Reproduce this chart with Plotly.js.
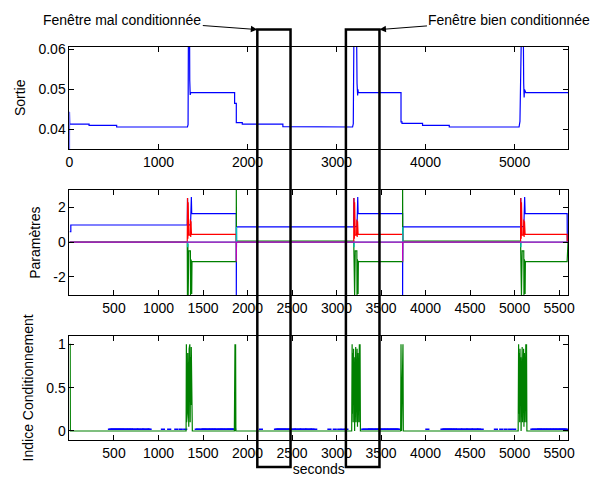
<!DOCTYPE html>
<html>
<head>
<meta charset="utf-8">
<script src="https://cdn.plot.ly/plotly-3.0.1.min.js"></script>
<style>html,body{margin:0;padding:0;background:#fff;}#chart{width:600px;height:477px;}</style>
</head>
<body>
<div id="chart"></div>
<script>
// ---------- Data ----------
// Top panel: "Sortie"
var sortieT = [0, 0, 3, 220, 220, 530, 530, 1325, 1332, 1336, 1349, 1351, 1353, 1356, 1358, 1362, 1855, 1855, 1874, 1874, 1941, 1941, 2397, 2397, 3180, 3188, 3195, 3225, 3230, 3234, 3237, 3240, 3244, 3724, 3724, 3735, 3735, 3966, 3966, 4266, 4266, 5050, 5060, 5076, 5098, 5102, 5105, 5107, 5111, 5125, 5600];
var sortieV = [0.033, 0.0444, 0.0413, 0.0413, 0.0410, 0.0410, 0.0406, 0.0406, 0.0412, 0.0640, 0.0640, 0.0523, 0.0502, 0.0486, 0.0502, 0.0492, 0.0492, 0.0465, 0.0465, 0.0417, 0.0417, 0.0413, 0.0413, 0.0407, 0.0406, 0.0414, 0.0640, 0.0640, 0.0515, 0.0505, 0.0485, 0.0500, 0.0492, 0.0492, 0.0419, 0.0419, 0.0415, 0.0415, 0.0410, 0.0410, 0.0406, 0.0406, 0.0420, 0.0640, 0.0640, 0.0515, 0.0505, 0.0480, 0.0500, 0.0492, 0.0492];

// Middle panel: "Paramètres" (five estimated parameters)
var p1T = [0, 15, 15, 1323, 1326, 1331, 1360, 1362, 1366, 1369, 1373, 1874, 1874, 1876, 3193, 3195, 3200, 3230, 3232, 3236, 3238, 3242, 3742, 3742, 3744, 5067, 5069, 5074, 5104, 5106, 5110, 5113, 5118, 5590, 5592, 5600];
var p1V = [0.6, 0.6, 0.99, 0.99, 2.55, 1.0, 1.0, 2.6, 1.2, 2.6, 1.65, 1.65, -3.1, 0.88, 0.88, 2.55, 0.9, 0.9, 2.6, 1.2, 2.6, 1.65, 1.65, -3.1, 0.88, 0.88, 2.55, 0.9, 0.9, 2.6, 1.2, 2.6, 1.65, 1.65, 0, 0];

var p2T = [0, 1323, 1325, 1330, 1333, 1340, 1358, 1360, 1363, 1366, 1369, 1373, 1376, 1874, 1874, 1876, 3193, 3195, 3200, 3203, 3210, 3228, 3230, 3233, 3236, 3239, 3242, 3245, 3742, 3742, 3744, 5067, 5069, 5074, 5077, 5085, 5103, 5105, 5108, 5111, 5114, 5118, 5121, 5590, 5592, 5600];
var p2V = [0, 0, -3.1, -0.1, -3.1, -0.5, -0.5, -3.1, -1.0, -3.1, -1.1, -3.0, -1.12, -1.12, 3.1, 0.06, 0.06, -3.1, -0.1, -3.1, -0.5, -0.5, -3.1, -1.0, -3.1, -1.1, -3.0, -1.12, -1.12, 3.1, 0.06, 0.06, -3.1, -0.1, -3.1, -0.5, -0.5, -3.1, -1.0, -3.1, -1.1, -3.0, -1.12, -1.12, 0, 0];

var p3T = [0, 1323, 1326, 1330, 1333, 1340, 1355, 1358, 1362, 1365, 1370, 1874, 1874, 3193, 3195, 3200, 3203, 3210, 3225, 3228, 3232, 3236, 3242, 3742, 3742, 5067, 5069, 5074, 5077, 5085, 5100, 5103, 5107, 5111, 5118, 5590, 5592, 5600];
var p3V = [0, 0, 2.55, 0.2, 2.3, 0.4, 0.4, 1.3, 0.3, 1.2, 0.45, 0.45, 0, 0, 2.55, 0.2, 2.3, 0.4, 0.4, 1.3, 0.3, 1.2, 0.45, 0.45, 0, 0, 2.55, 0.2, 2.3, 0.4, 0.4, 1.3, 0.3, 1.2, 0.45, 0.45, 0, 0];

var p4T = [0, 1327, 1328, 1330, 1874, 1876, 1876, 1878, 3196, 3197, 3199, 3742, 3744, 3744, 3746, 5070, 5071, 5073, 5600];
var p4V = [0, 0, -0.3, 0, 0, 0.06, 0.88, 0, 0, -0.3, 0, 0, 0.06, 0.88, 0, 0, -0.3, 0, 0];

var p5T = [0, 1874, 1874, 1876, 3742, 3742, 3744, 5600];
var p5V = [0, 0, -1.12, 0, 0, -1.12, 0, 0];

// Bottom panel: "Indice Conditionnement"
var indT = [0, 8, 10, 1310, 1313, 1316, 1320, 1324, 1328, 1332, 1336, 1340, 1344, 1348, 1352, 1356, 1360, 1364, 1368, 1372, 1376, 1380, 1852, 1854, 1857, 1859, 1862, 1866, 1869, 3170, 3175, 3179, 3183, 3187, 3191, 3195, 3199, 3203, 3207, 3211, 3215, 3219, 3223, 3227, 3231, 3235, 3240, 3244, 3248, 3252, 3256, 3260, 3264, 3268, 3720, 3724, 3730, 3746, 3750, 5040, 5045, 5049, 5053, 5057, 5061, 5065, 5069, 5073, 5077, 5081, 5085, 5089, 5093, 5097, 5101, 5105, 5110, 5114, 5118, 5122, 5126, 5130, 5134, 5138, 5600];
var indV = [1, 1, 0, 0, 1, 0.1, 0.93, 0.2, 0.9, 0.3, 0.75, 0.05, 0.95, 0.4, 1, 0.1, 0.85, 0.3, 0.97, 0.1, 0.7, 0, 0, 0.5, 0.5, 1, 0, 1, 0, 0, 1, 0.2, 0.9, 0.1, 0.95, 0.3, 0.85, 0, 0.9, 0.2, 0.97, 0.1, 0.8, 0.2, 0.95, 0.05, 0.9, 0.1, 0.97, 0.3, 1, 0.1, 1, 0, 0, 1, 0, 1, 0, 0, 1, 0.2, 0.9, 0.1, 0.95, 0.3, 0.85, 0, 0.9, 0.2, 0.97, 0.1, 0.8, 0.2, 0.95, 0.05, 0.9, 0.1, 0.97, 0.3, 1, 0.1, 1, 0, 0];

var dotsT = [455, 470, 485, 500, 515, 530, 545, 560, 575, 590, 605, 620, 640, 655, 670, 690, 705, 720, 750, 765, 780, 810, 825, 840, 870, 885, 900, 1050, 1120, 1200, 1250, 1300,
  1430, 1445, 1480, 1495, 1510, 1525, 1540, 1560, 1575, 1590, 1610, 1625, 1640, 1660, 1680, 1695, 1710, 1725, 1740, 1760, 1775, 1790, 1805, 1820, 1835, 1850,
  2150, 2320, 2335, 2350, 2365, 2380, 2395, 2410, 2425, 2440, 2460, 2475, 2490, 2520, 2535, 2550, 2580, 2595, 2610, 2640, 2655, 2670, 2700, 2715, 2730, 2760,
  2920, 2980, 3030, 3070, 3110,
  3300, 3315, 3345, 3360, 3375, 3390, 3405, 3420, 3440, 3455, 3470, 3490, 3505, 3520, 3540, 3555, 3570, 3590, 3605, 3620, 3635, 3650, 3665, 3680, 3695,
  4020, 4190, 4205, 4220, 4235, 4250, 4265, 4280, 4295, 4310, 4330, 4345, 4360, 4390, 4405, 4420, 4450, 4465, 4480, 4510, 4525, 4540, 4570, 4585, 4600, 4630,
  4790, 4850, 4900, 4950, 4995,
  5200, 5215, 5245, 5260, 5275, 5290, 5305, 5320, 5340, 5355, 5370, 5390, 5405, 5420, 5440, 5455, 5470, 5490, 5505, 5520, 5535, 5550, 5565, 5580];
var dotsV = dotsT.map(function(){ return 0.02; });

// Windows (rectangles) and their labels
var windowLabels = ["Fenêtre mal conditionnée", "Fenêtre bien conditionnée"];
var windowStart = [2110, 3105];
var windowEnd = [2483, 3482];

var topTicks = [0, 1000, 2000, 3000, 4000, 5000];
var lowTicks = [500, 1000, 1500, 2000, 2500, 3000, 3500, 4000, 4500, 5000, 5500];

// ---------- Figure ----------
var FONT = {family: 'Liberation Sans, Arial, sans-serif', size: 14, color: '#000'};
var lw = 1.2;
var traces = [
  {x: sortieT, y: sortieV, xaxis: 'x', yaxis: 'y', mode: 'lines', line: {color: '#0000ff', width: lw}},
  {x: p1T, y: p1V, xaxis: 'x2', yaxis: 'y2', mode: 'lines', line: {color: '#0000ff', width: lw}},
  {x: p2T, y: p2V, xaxis: 'x2', yaxis: 'y2', mode: 'lines', line: {color: '#008000', width: lw}},
  {x: p3T, y: p3V, xaxis: 'x2', yaxis: 'y2', mode: 'lines', line: {color: '#ff0000', width: lw}},
  {x: p4T, y: p4V, xaxis: 'x2', yaxis: 'y2', mode: 'lines', line: {color: '#00bfbf', width: lw}},
  {x: p5T, y: p5V, xaxis: 'x2', yaxis: 'y2', mode: 'lines', line: {color: '#bf00bf', width: lw}},
  {x: dotsT, y: dotsV, xaxis: 'x3', yaxis: 'y3', mode: 'markers', marker: {symbol: 'line-ew', size: 3, line: {width: 1.5, color: '#0000ff'}}},
  {x: indT, y: indV, xaxis: 'x3', yaxis: 'y3', mode: 'lines', line: {color: '#008000', width: lw}}
];

function xax(anchor, vals) {
  return {domain: [0.1158, 0.9467], range: [0, 5600], anchor: anchor, tickvals: vals, ticktext: vals.map(String),
    showline: true, linecolor: '#000', linewidth: 1, mirror: 'ticks', ticks: 'inside', ticklen: 5, tickcolor: '#000',
    showgrid: false, zeroline: false, tickfont: FONT};
}
function yax(anchor, dom, rng, vals, txt, title) {
  return {domain: dom, range: rng, anchor: anchor, tickvals: vals, ticktext: txt,
    showline: true, linecolor: '#000', linewidth: 1, mirror: 'ticks', ticks: 'inside', ticklen: 5, tickcolor: '#000',
    showgrid: false, zeroline: false, tickfont: FONT, title: {text: title, font: FONT, standoff: 9}};
}

var x3 = xax('y3', lowTicks);
x3.title = {text: 'seconds', font: FONT, standoff: 5};

var shapes = [];
var annotations = [];
for (var i = 0; i < windowStart.length; i++) {
  shapes.push({type: 'rect', xref: 'x', yref: 'paper', x0: windowStart[i], x1: windowEnd[i], y0: 0.021, y1: 0.938,
    line: {color: '#000', width: 2.5}, layer: 'above'});
}
annotations.push({text: windowLabels[0], xref: 'x', yref: 'paper', x: windowStart[0], y: 0.938, showarrow: true,
  ax: -135, ay: -10, arrowhead: 2, arrowsize: 1.3, arrowwidth: 1, arrowcolor: '#000', font: FONT, standoff: 0});
annotations.push({text: windowLabels[1], xref: 'x', yref: 'paper', x: windowEnd[1], y: 0.938, showarrow: true,
  ax: 130, ay: -10, arrowhead: 2, arrowsize: 1.3, arrowwidth: 1, arrowcolor: '#000', font: FONT, standoff: 0});

var layout = {
  width: 600, height: 477, margin: {l: 0, r: 0, t: 0, b: 0},
  paper_bgcolor: '#fff', plot_bgcolor: '#fff', showlegend: false, font: FONT,
  xaxis: xax('y', topTicks),
  yaxis: yax('x', [0.6876, 0.9025], [0.0351, 0.0607], [0.04, 0.05, 0.06], ['0.04', '0.05', '0.06'], 'Sortie'),
  xaxis2: xax('y2', lowTicks),
  yaxis2: yax('x2', [0.3809, 0.6017], [-3.07, 3.01], [-2, 0, 2], ['-2', '0', '2'], 'Paramètres'),
  xaxis3: x3,
  yaxis3: yax('x3', [0.0776, 0.2962], [-0.104, 1.1], [0, 0.5, 1], ['0', '0.5', '1'], 'Indice Conditionnement'),
  shapes: shapes,
  annotations: annotations
};

Plotly.newPlot('chart', traces, layout, {displayModeBar: false, staticPlot: true});
</script>
</body>
</html>
